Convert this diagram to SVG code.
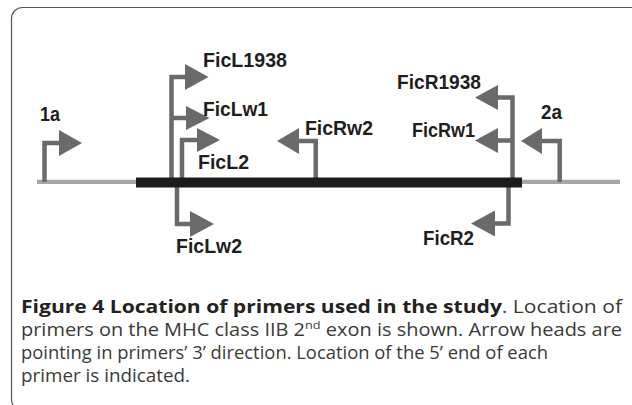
<svg xmlns="http://www.w3.org/2000/svg" width="632" height="405" viewBox="0 0 632 405">
<style>
.frame{fill:none;stroke:#555;stroke-width:1.2}
.stem{fill:none;stroke:#6a6a6a;stroke-width:4.5;stroke-linejoin:miter;stroke-linecap:butt}
.head{fill:#6a6a6a}
.lbl{font-family:"Liberation Sans",Arial,sans-serif;font-weight:bold;font-size:19.5px;fill:#1e1e1e}
.cap{font-family:"Open Sans","Noto Sans",sans-serif;font-size:18px;fill:#3a3a3a}
.capb{font-weight:bold;fill:#222}
</style>
<rect class="frame" x="11.5" y="7.5" width="660" height="403" rx="11"/>
<g id="backbone">
<line x1="37" y1="181.8" x2="620" y2="181.8" stroke="#a6a6a6" stroke-width="4.2"/>
</g>
<g id="connectors">
<polyline class="stem" points="44.5,182 44.5,143 60,143"/>
<polyline class="stem" points="171.5,180 171.5,77 186,77"/>
<polyline class="stem" points="171.5,118 187,118"/>
<polyline class="stem" points="182,180 182,140 198,140"/>
<polyline class="stem" points="177,185 177,224 191,224"/>
<polyline class="stem" points="315.7,180 315.7,141 298,141"/>
<polyline class="stem" points="512.5,180 512.5,97.5 497,97.5"/>
<polyline class="stem" points="512.5,140.5 497,140.5"/>
<polyline class="stem" points="508.5,185 508.5,223.5 494,223.5"/>
<polyline class="stem" points="559.7,182 559.7,141 541,141"/>
</g>
<g id="exon">
<rect x="136" y="177.5" width="386" height="10" fill="#1b1b1b"/>
</g>
<g id="p1a">
<polygon class="head" points="59,130 82,143 59,156"/>
<text class="lbl" x="40" y="121" textLength="20" lengthAdjust="spacingAndGlyphs">1a</text>
</g>
<g id="FicL1938">
<polygon class="head" points="185,64 208.5,77 185,90"/>
<text class="lbl" x="203" y="67" textLength="84" lengthAdjust="spacingAndGlyphs">FicL1938</text>
</g>
<g id="FicLw1">
<polygon class="head" points="186,106 209.5,118 186,130"/>
<text class="lbl" x="203" y="116" textLength="65" lengthAdjust="spacingAndGlyphs">FicLw1</text>
</g>
<g id="FicL2">
<polygon class="head" points="197,128 220,140 197,152"/>
<text class="lbl" x="198" y="169" textLength="51" lengthAdjust="spacingAndGlyphs">FicL2</text>
</g>
<g id="FicLw2">
<polygon class="head" points="190,211 214,224 190,237"/>
<text class="lbl" x="176" y="253" textLength="66" lengthAdjust="spacingAndGlyphs">FicLw2</text>
</g>
<g id="FicRw2">
<polygon class="head" points="299,128 277,141 299,154"/>
<text class="lbl" x="305" y="135" textLength="68" lengthAdjust="spacingAndGlyphs">FicRw2</text>
</g>
<g id="FicR1938">
<polygon class="head" points="498,85 475,97.5 498,110"/>
<text class="lbl" x="397" y="89" textLength="84" lengthAdjust="spacingAndGlyphs">FicR1938</text>
</g>
<g id="FicRw1">
<polygon class="head" points="498,128 475,140.5 498,153"/>
<text class="lbl" x="412" y="137" textLength="63" lengthAdjust="spacingAndGlyphs">FicRw1</text>
</g>
<g id="FicR2">
<polygon class="head" points="495,210.5 471,223.5 495,236.5"/>
<text class="lbl" x="423" y="245" textLength="51" lengthAdjust="spacingAndGlyphs">FicR2</text>
</g>
<g id="p2a">
<polygon class="head" points="542,128 521,141 542,154"/>
<text class="lbl" x="541" y="119" textLength="21" lengthAdjust="spacingAndGlyphs">2a</text>
</g>
<g id="caption">
<text class="cap" x="21" y="312.5" textLength="601" lengthAdjust="spacingAndGlyphs"><tspan class="capb">Figure 4 Location of primers used in the study</tspan>. Location of</text>
<text class="cap" x="21" y="335.5" textLength="601" lengthAdjust="spacingAndGlyphs">primers on the MHC class IIB 2<tspan font-size="11.5" dy="-7">nd</tspan><tspan dy="7"> exon is shown. Arrow heads are</tspan></text>
<text class="cap" x="21" y="358.5" textLength="527" lengthAdjust="spacingAndGlyphs">pointing in primers’ 3’ direction. Location of the 5’ end of each</text>
<text class="cap" x="21" y="381.5" textLength="169" lengthAdjust="spacingAndGlyphs">primer is indicated.</text>
</g>
</svg>
